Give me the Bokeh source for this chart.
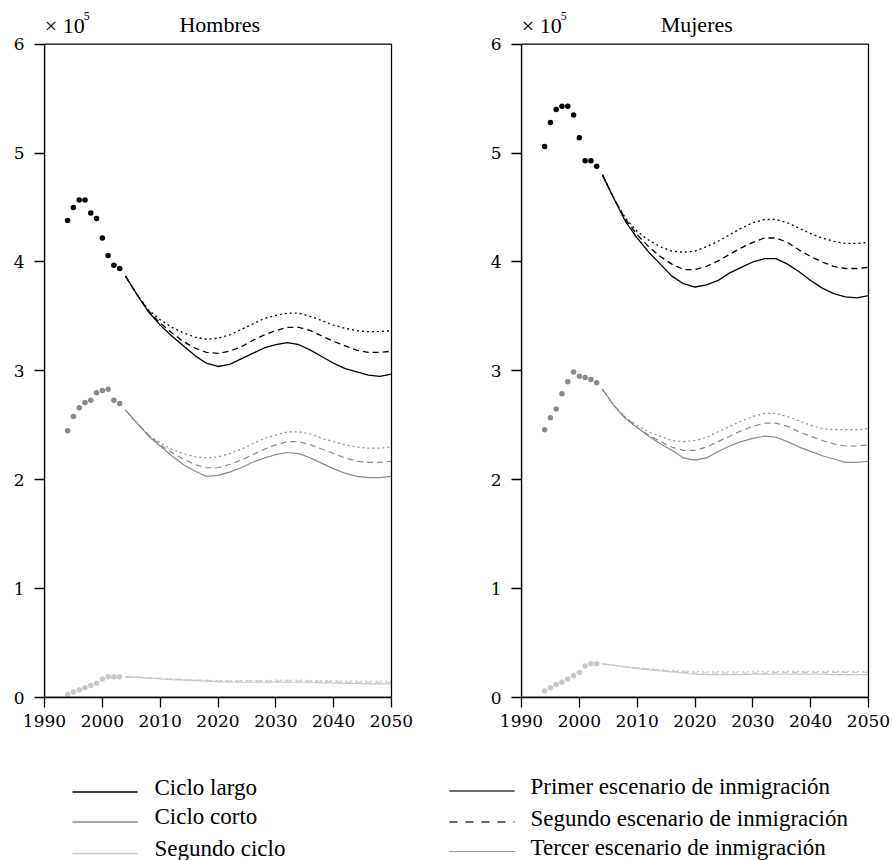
from bokeh.plotting import figure
from bokeh.models import Range1d, FixedTicker, BoxAnnotation
from bokeh.layouts import column, row
from bokeh.embed import file_html
from bokeh.resources import INLINE
from bokeh.core.properties import value

# ---------------- data (population, units of 10^5) ----------------
hist_years = list(range(1994, 2004))
proj_years = list(range(2004, 2051, 2))

# Hombres
h_largo_hist = [4.38, 4.50, 4.57, 4.57, 4.45, 4.40, 4.22, 4.06, 3.97, 3.94]
h_corto_hist = [2.45, 2.58, 2.66, 2.71, 2.73, 2.80, 2.82, 2.83, 2.73, 2.70]
h_segundo_hist = [0.03, 0.05, 0.07, 0.09, 0.11, 0.13, 0.17, 0.19, 0.19, 0.19]

h_largo_e1 = [3.87, 3.70, 3.54, 3.42, 3.32, 3.23, 3.14, 3.07, 3.04, 3.06, 3.11, 3.16,
              3.21, 3.24, 3.26, 3.24, 3.19, 3.13, 3.07, 3.02, 2.99, 2.96, 2.95, 2.97]
h_largo_e2 = [3.87, 3.70, 3.55, 3.44, 3.35, 3.27, 3.21, 3.17, 3.16, 3.18, 3.22, 3.28,
              3.33, 3.37, 3.40, 3.40, 3.37, 3.32, 3.27, 3.23, 3.19, 3.17, 3.17, 3.18]
h_largo_e3 = [3.87, 3.70, 3.56, 3.47, 3.40, 3.35, 3.31, 3.29, 3.30, 3.33, 3.38, 3.43,
              3.48, 3.51, 3.53, 3.53, 3.50, 3.46, 3.42, 3.39, 3.37, 3.36, 3.36, 3.37]

h_corto_e1 = [2.64, 2.52, 2.40, 2.31, 2.22, 2.14, 2.08, 2.03, 2.04, 2.07, 2.11, 2.16,
              2.20, 2.23, 2.25, 2.24, 2.20, 2.15, 2.10, 2.06, 2.03, 2.02, 2.02, 2.03]
h_corto_e2 = [2.64, 2.52, 2.41, 2.32, 2.25, 2.19, 2.14, 2.11, 2.11, 2.14, 2.18, 2.23,
              2.28, 2.32, 2.35, 2.35, 2.32, 2.28, 2.24, 2.20, 2.17, 2.16, 2.16, 2.17]
h_corto_e3 = [2.64, 2.52, 2.41, 2.34, 2.28, 2.24, 2.21, 2.20, 2.21, 2.24, 2.28, 2.33,
              2.38, 2.41, 2.44, 2.44, 2.42, 2.38, 2.35, 2.32, 2.30, 2.29, 2.29, 2.30]

h_segundo_e1 = [0.19, 0.185, 0.18, 0.17, 0.165, 0.16, 0.155, 0.15, 0.145, 0.14, 0.14, 0.14,
                0.14, 0.14, 0.14, 0.14, 0.14, 0.135, 0.135, 0.13, 0.13, 0.125, 0.125, 0.125]
h_segundo_e2 = [0.19, 0.185, 0.18, 0.175, 0.17, 0.165, 0.16, 0.155, 0.15, 0.15, 0.15, 0.15,
                0.15, 0.15, 0.15, 0.15, 0.15, 0.145, 0.145, 0.14, 0.14, 0.14, 0.14, 0.14]
h_segundo_e3 = [0.19, 0.185, 0.18, 0.175, 0.17, 0.165, 0.16, 0.16, 0.155, 0.155, 0.155, 0.155,
                0.155, 0.16, 0.16, 0.16, 0.155, 0.155, 0.155, 0.15, 0.15, 0.15, 0.15, 0.15]

# Mujeres
m_largo_hist = [5.06, 5.28, 5.40, 5.43, 5.43, 5.35, 5.14, 4.93, 4.93, 4.88]
m_corto_hist = [2.46, 2.57, 2.65, 2.79, 2.90, 2.99, 2.95, 2.94, 2.92, 2.89]
m_segundo_hist = [0.06, 0.09, 0.12, 0.14, 0.17, 0.20, 0.23, 0.29, 0.31, 0.31]

m_largo_e1 = [4.80, 4.58, 4.37, 4.22, 4.09, 3.98, 3.87, 3.80, 3.77, 3.79, 3.83, 3.90,
              3.95, 4.00, 4.03, 4.03, 3.98, 3.91, 3.83, 3.76, 3.71, 3.68, 3.67, 3.69]
m_largo_e2 = [4.80, 4.58, 4.39, 4.25, 4.14, 4.05, 3.98, 3.93, 3.93, 3.96, 4.01, 4.07,
              4.13, 4.18, 4.22, 4.22, 4.18, 4.11, 4.05, 4.00, 3.96, 3.94, 3.94, 3.95]
m_largo_e3 = [4.80, 4.58, 4.40, 4.28, 4.20, 4.14, 4.10, 4.09, 4.10, 4.14, 4.19, 4.25,
              4.31, 4.36, 4.39, 4.39, 4.36, 4.31, 4.26, 4.22, 4.19, 4.17, 4.17, 4.18]

m_corto_e1 = [2.83, 2.68, 2.56, 2.48, 2.40, 2.33, 2.27, 2.20, 2.18, 2.20, 2.26, 2.31,
              2.35, 2.38, 2.40, 2.39, 2.35, 2.30, 2.26, 2.22, 2.19, 2.16, 2.16, 2.17]
m_corto_e2 = [2.83, 2.68, 2.57, 2.48, 2.41, 2.35, 2.30, 2.27, 2.27, 2.30, 2.35, 2.40,
              2.45, 2.49, 2.52, 2.52, 2.49, 2.44, 2.40, 2.36, 2.33, 2.31, 2.31, 2.32]
m_corto_e3 = [2.83, 2.68, 2.57, 2.50, 2.44, 2.40, 2.36, 2.35, 2.36, 2.39, 2.44, 2.49,
              2.54, 2.58, 2.61, 2.61, 2.58, 2.54, 2.50, 2.47, 2.46, 2.46, 2.46, 2.47]

m_segundo_e1 = [0.31, 0.295, 0.28, 0.265, 0.255, 0.245, 0.235, 0.225, 0.215, 0.21, 0.21, 0.21,
                0.21, 0.215, 0.215, 0.215, 0.215, 0.215, 0.215, 0.215, 0.21, 0.21, 0.21, 0.21]
m_segundo_e2 = [0.31, 0.295, 0.28, 0.27, 0.26, 0.25, 0.24, 0.235, 0.225, 0.225, 0.225, 0.225,
                0.225, 0.225, 0.225, 0.23, 0.23, 0.23, 0.23, 0.23, 0.23, 0.23, 0.23, 0.23]
m_segundo_e3 = [0.31, 0.295, 0.285, 0.275, 0.265, 0.255, 0.25, 0.245, 0.24, 0.235, 0.235, 0.235,
                0.235, 0.24, 0.24, 0.24, 0.24, 0.24, 0.24, 0.24, 0.24, 0.24, 0.24, 0.24]

x_ticks = [1990, 2000, 2010, 2020, 2030, 2040, 2050]
y_ticks = [0, 1, 2, 3, 4, 5, 6]
panel_titles = ["Hombres", "Mujeres"]
scale_text = "× 10"
scale_exp = "5"

cycle_labels = ["Ciclo largo", "Ciclo corto", "Segundo ciclo"]
scenario_labels = ["Primer escenario de inmigración",
                   "Segundo escenario de inmigración",
                   "Tercer escenario de inmigración"]

# ---------------- styles / geometry ----------------
SERIF = "Liberation Serif"
TICKFONT = "DejaVu Serif"
cycle_colors = ["#000000", "#8a8a8a", "#c8c8c8"]
scenario_dashes = ["solid", "6 4", "2 3"]
scenario_legend_color = "#3a3a3a"

PANEL_H = 760
BOTTOM_B = 63
FRAME_H = PANEL_H - BOTTOM_B          # frame covers header area too
AXIS_TOP_PX = 43.7                    # pixel row of value 6
Y_MAX = FRAME_H * 6.0 / (FRAME_H - AXIS_TOP_PX)
X_PAD_PX = 2                          # extra frame pixels right of 2050
PX_PER_YEAR = 347 / 60.0
X_MAX = 2050 + X_PAD_PX / PX_PER_YEAR
LEGEND_H = 100


def px_to_y(py):
    return (FRAME_H - py) * Y_MAX / FRAME_H


def make_panel(title, hists, scen, width, left_b, right_b):
    p = figure(width=width, height=PANEL_H, title=None,
               min_border_left=left_b, min_border_right=right_b - X_PAD_PX,
               min_border_top=0, min_border_bottom=BOTTOM_B,
               x_range=Range1d(1990, X_MAX), y_range=Range1d(0, Y_MAX),
               toolbar_location=None, output_backend="svg")
    p.background_fill_color = "white"
    p.border_fill_color = "white"
    p.grid.visible = False
    p.outline_line_color = None
    p.add_layout(BoxAnnotation(left=1990, right=2050, bottom=0, top=6,
                               fill_alpha=0, line_color="black", line_alpha=1.0,
                               line_width=1.3))
    for ax in (p.xaxis[0], p.yaxis[0]):
        ax.axis_line_width = 1.3
        ax.major_tick_line_width = 1.3
        ax.major_tick_out = 10
        ax.major_tick_in = 0
        ax.minor_tick_line_color = None
        ax.major_label_text_font = TICKFONT
        ax.major_label_text_font_size = "17px"
        ax.major_label_text_color = "black"
    p.xaxis[0].ticker = FixedTicker(ticks=x_ticks)
    p.yaxis[0].ticker = FixedTicker(ticks=y_ticks)
    p.yaxis[0].bounds = (0, 6)
    p.xaxis[0].bounds = (1990, 2050)
    p.xaxis[0].major_label_standoff = 7
    p.yaxis[0].major_label_standoff = 10

    for ci in range(3):
        col = cycle_colors[ci]
        for si in range(3):
            p.line(proj_years, scen[ci][si], line_color=col,
                   line_width=1.3 if ci == 0 else 1.2,
                   line_dash=scenario_dashes[si])
        p.scatter(hist_years, hists[ci], size=5.5, fill_color=col,
                  line_color=col, line_width=0)

    # header texts (inside the extended frame, above the box)
    p.text(x=[2020.3], y=[px_to_y(24)], text=[title], text_font=value(SERIF),
           text_font_size=value("22px"), text_baseline="middle", text_align="center",
           text_color="black")
    p.text(x=[1990.05], y=[px_to_y(25)], text=[scale_text], text_font=value(SERIF),
           text_font_size=value("22px"), text_baseline="middle", text_align="left",
           text_color="black")
    p.text(x=[1996.8], y=[px_to_y(15.5)], text=[scale_exp], text_font=value(SERIF),
           text_font_size=value("12px"), text_baseline="middle", text_align="left",
           text_color="black")
    return p


p1 = make_panel(panel_titles[0],
                [h_largo_hist, h_corto_hist, h_segundo_hist],
                [[h_largo_e1, h_largo_e2, h_largo_e3],
                 [h_corto_e1, h_corto_e2, h_corto_e3],
                 [h_segundo_e1, h_segundo_e2, h_segundo_e3]],
                446, 44, 55)
p2 = make_panel(panel_titles[1],
                [m_largo_hist, m_corto_hist, m_segundo_hist],
                [[m_largo_e1, m_largo_e2, m_largo_e3],
                 [m_corto_e1, m_corto_e2, m_corto_e3],
                 [m_segundo_e1, m_segundo_e2, m_segundo_e3]],
                447, 75, 25)

# ---------------- legend (page-pixel coordinates) ----------------
pl = figure(width=893, height=LEGEND_H, title=None, x_range=Range1d(0, 893),
            y_range=Range1d(860, 760),
            min_border=0, min_border_left=0, min_border_right=0,
            min_border_top=0, min_border_bottom=0,
            toolbar_location=None, output_backend="svg")
pl.axis.visible = False
pl.grid.visible = False
pl.outline_line_color = None
pl.background_fill_color = "white"
pl.border_fill_color = "white"

left_line_y = [791.5, 821.5, 853]
left_text_y = [786.5, 816, 848]
right_line_y = [790.5, 821.5, 851]
right_text_y = [786, 817.5, 847]

for i in range(3):
    pl.line([72, 137], [left_line_y[i]] * 2, line_color=cycle_colors[i], line_width=1.5)
    pl.line([449, 514], [right_line_y[i]] * 2, line_color=scenario_legend_color,
            line_width=1.5 if i < 2 else 1.2,
            line_dash=["solid", "8 8", "1 1"][i])

pl.text(x=[154] * 3, y=left_text_y, text=cycle_labels, text_font=value(SERIF),
        text_font_size=value("23px"), text_baseline="middle", text_align="left",
        text_color="black")
pl.text(x=[530] * 3, y=right_text_y, text=scenario_labels, text_font=value(SERIF),
        text_font_size=value("23px"), text_baseline="middle", text_align="left",
        text_color="black")

layout = column(row(p1, p2, spacing=0), pl, spacing=0)
open("out.html", "w").write(file_html(layout, INLINE))
